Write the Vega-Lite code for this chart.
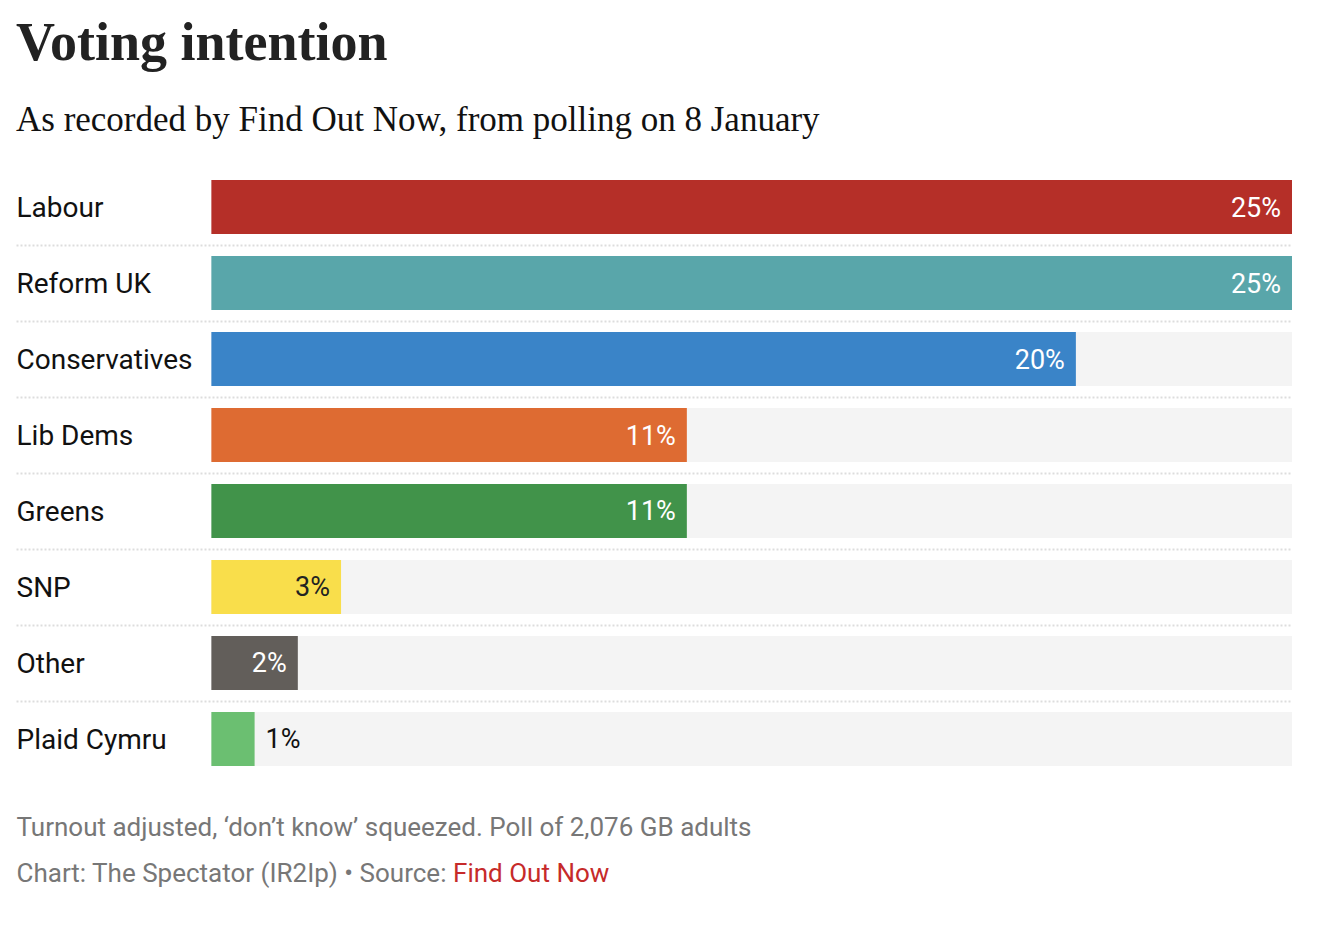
{
  "$schema": "https://vega.github.io/schema/vega-lite/v6.json",
  "width": 1276,
  "height": 608,
  "autosize": {"type": "none"},
  "padding": {"left": 16, "top": 169, "right": 32, "bottom": 149},
  "background": "white",
  "config": {"view": {"stroke": null}},
  "title": {
    "text": "Voting intention",
    "subtitle": "As recorded by Find Out Now, from polling on 8 January",
    "anchor": "start",
    "frame": "group",
    "font": "Liberation Serif",
    "fontSize": 54,
    "fontWeight": "bold",
    "color": "#222222",
    "subtitleFont": "Liberation Serif",
    "subtitleFontSize": 35,
    "subtitleColor": "#111111",
    "subtitlePadding": 32,
    "offset": 31
  },
  "data": {
    "values": [
      {"party": "Labour", "value": 25},
      {"party": "Reform UK", "value": 25},
      {"party": "Conservatives", "value": 20},
      {"party": "Lib Dems", "value": 11},
      {"party": "Greens", "value": 11},
      {"party": "SNP", "value": 3},
      {"party": "Other", "value": 2},
      {"party": "Plaid Cymru", "value": 1}
    ]
  },
  "layer": [
    {
      "mark": {"type": "bar", "color": "#f4f4f4"},
      "encoding": {
        "y": {
          "field": "party",
          "type": "nominal",
          "sort": null,
          "scale": {"paddingInner": 0.28947, "paddingOuter": 0.14474},
          "axis": {
            "title": null,
            "domain": false,
            "ticks": false,
            "grid": true,
            "gridColor": "#dddddd",
            "gridDash": [2, 2],
            "gridWidth": 2,
            "gridOpacity": {"condition": {"test": "datum.value === 'Plaid Cymru'", "value": 0}, "value": 1},
            "bandPosition": 0.5,
            "tickOffset": 38,
            "labelOffset": -36.5,
            "labelAlign": "left",
            "labelBaseline": "middle",
            "labelPadding": 0,
            "labelFont": "Roboto",
            "labelFontSize": 28,
            "labelColor": "#111111",
            "labelLimit": 0
          }
        },
        "x": {
          "datum": 25,
          "type": "quantitative",
          "scale": {"domain": [-4.52, 25], "nice": false, "zero": false},
          "axis": {
            "orient": "bottom",
            "values": [-4.52, 5.58],
            "domain": false,
            "ticks": false,
            "grid": false,
            "labelExpr": "datum.value < 0 ? 'Chart: The Spectator (IR2Ip) • Source:' : 'Find Out Now'",
            "labelAlign": "left",
            "labelBaseline": "alphabetic",
            "labelPadding": 104,
            "labelFont": "Roboto",
            "labelFontSize": 26,
            "labelLimit": 0,
            "labelColor": {"condition": {"test": "datum.value > 0", "value": "#c62a2a"}, "value": "#777777"},
            "labelOverlap": false,
            "labelFlush": false,
            "labelBound": false,
            "title": "Turnout adjusted, ‘don’t know’ squeezed. Poll of 2,076 GB adults",
            "titleFont": "Roboto",
            "titleFontSize": 26,
            "titleFontWeight": "normal",
            "titleColor": "#777777",
            "titleAnchor": "start",
            "titleAlign": "left",
            "titleBaseline": "alphabetic",
            "titleLimit": 0,
            "titleX": 0,
            "titleY": 58
          }
        }
      }
    },
    {
      "mark": {"type": "bar"},
      "encoding": {
        "y": {"field": "party", "type": "nominal", "sort": null},
        "x": {"field": "value", "type": "quantitative"},
        "color": {
          "field": "party",
          "type": "nominal",
          "legend": null,
          "scale": {
            "domain": ["Labour", "Reform UK", "Conservatives", "Lib Dems", "Greens", "SNP", "Other", "Plaid Cymru"],
            "range": ["#b52f28", "#59a6aa", "#3a84c8", "#de6b32", "#41934a", "#f9de4b", "#625e5a", "#6bbf71"]
          }
        }
      }
    },
    {
      "transform": [
        {"filter": "datum.party !== 'Plaid Cymru'"},
        {"calculate": "datum.value + '%'", "as": "label"}
      ],
      "mark": {"type": "text", "align": "right", "dx": -11, "dy": 1.5, "baseline": "middle", "font": "Roboto", "fontSize": 27},
      "encoding": {
        "y": {"field": "party", "type": "nominal", "sort": null},
        "x": {"field": "value", "type": "quantitative"},
        "text": {"field": "label"},
        "color": {"condition": {"test": "datum.party === 'SNP'", "value": "#222222"}, "value": "#ffffff"}
      }
    },
    {
      "transform": [
        {"filter": "datum.party === 'Plaid Cymru'"},
        {"calculate": "datum.value + '%'", "as": "label"}
      ],
      "mark": {"type": "text", "align": "left", "dx": 11, "dy": 1.5, "baseline": "middle", "font": "Roboto", "fontSize": 27, "color": "#111111"},
      "encoding": {
        "y": {"field": "party", "type": "nominal", "sort": null},
        "x": {"field": "value", "type": "quantitative"},
        "text": {"field": "label"}
      }
    }
  ]
}
